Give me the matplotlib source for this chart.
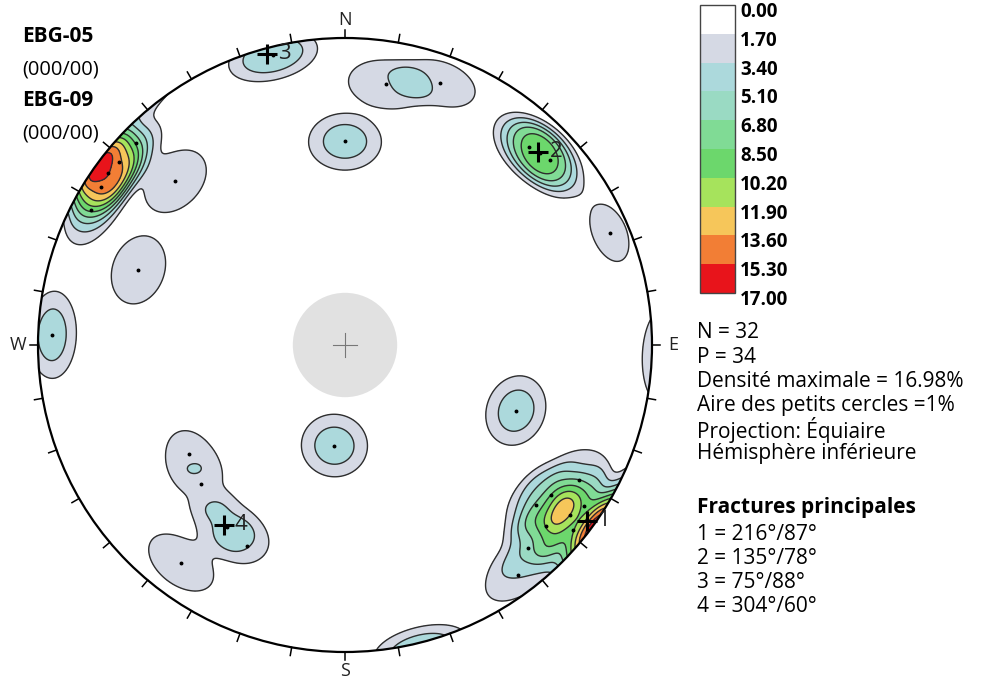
import numpy as np
import matplotlib.pyplot as plt
from matplotlib.patches import Circle, Rectangle

plt.rcParams['font.family'] = ['Open Sans', 'DejaVu Sans']

N_MEASURES = 32
N_PLANES = 34
MAX_DENSITY = 16.98
COUNT_AREA = 1  # small circle area, % of hemisphere

levels = [0.00, 1.70, 3.40, 5.10, 6.80, 8.50, 10.20, 11.90, 13.60, 15.30, 17.00]
fill_colors = ['#ffffff', '#d5d9e4', '#acd9dc', '#9adac3', '#80db95',
               '#6cd76c', '#a6e35c', '#f6c65a', '#f27e35', '#e8141b']

# poles to fractures (lower hemisphere), with weighting
pole_trend = [346, 20, 9, 0, 314, 290, 272, 67, 111, 186,
              235, 226, 213, 206, 217,
              43, 45.5, 48,
              298, 303, 306, 309, 314,
              126, 130, 132, 120, 124, 129, 127, 143, 138]
pole_plunge = [3, 10, 15, 34, 24, 29, 5, 7, 40, 63,
               38, 35, 30, 28, 12,
               13, 12, 11,
               7, 6, 5, 6, 6,
               18, 20, 13, 13, 7, 5, 9, 7, 12]
pole_weight = [1.3, 0.85, 1.0, 1.2, 1.0, 1.0, 1.2, 0.66, 1.2, 1.2,
               0.65, 0.5, 0.9, 0.45, 0.9,
               1.05, 1.05, 1.05,
               0.8, 1.25, 1.62, 1.25, 0.45,
               0.9, 0.8, 0.8, 0.7, 1.0, 1.15, 0.3, 0.8, 0.5]

# principal fracture sets, strike/dip (right hand rule)
fracture_id = ['1', '2', '3', '4']
fracture_strike = [216, 135, 75, 304]
fracture_dip = [87, 78, 88, 60]

site_names = ['EBG-05', 'EBG-09']
site_orient = ['(000/00)', '(000/00)']


def to_net(trend, plunge):
    # Lambert equal-area, lower hemisphere
    t = np.radians(np.asarray(trend, float))
    c = np.radians(90 - np.asarray(plunge, float))
    r = np.sqrt(2) * np.sin(c / 2)
    return r * np.sin(t), r * np.cos(t)


def density_grid(n=461, kernel=9.0):
    g = np.linspace(-1.03, 1.03, n)
    X, Y = np.meshgrid(g, g)
    R = np.minimum(np.hypot(X, Y), 1.0)
    c = 2 * np.arcsin(R / np.sqrt(2))
    t = np.arctan2(X, Y)
    v = np.stack([np.sin(c) * np.sin(t), np.sin(c) * np.cos(t), np.cos(c)], -1)
    pt = np.radians(pole_trend)
    pp = np.radians(pole_plunge)
    p = np.stack([np.cos(pp) * np.sin(pt), np.cos(pp) * np.cos(pt), np.sin(pp)], -1)
    ang = np.degrees(np.arccos(np.clip(np.abs(v @ p.T), 0, 1)))
    w = np.asarray(pole_weight)
    dens = (w * np.exp(-(ang / kernel) ** 4)).sum(-1) * 100 / N_MEASURES
    return X, Y, dens


fig = plt.figure(figsize=(10.01, 6.80), dpi=100)

# page overlay in pixel units for the legend and notes
page = fig.add_axes([0, 0, 1, 1])
page.set_xlim(0, 1001)
page.set_ylim(680, 0)
page.axis('off')

lim = 1.12
cx, cy, rad = 345, 345, 307
net = fig.add_axes([(cx - lim * rad) / 1001, (680 - cy - lim * rad) / 680,
                    2 * lim * rad / 1001, 2 * lim * rad / 680])
net.set_xlim(-lim, lim)
net.set_ylim(-lim, lim)
net.axis('off')
net.patch.set_visible(False)

X, Y, dens = density_grid()
clip = Circle((0, 0), 1.0, transform=net.transData)
cf = net.contourf(X, Y, np.minimum(dens, 16.99), levels=levels, colors=fill_colors)
cf.set_clip_path(clip)
cl = net.contour(X, Y, dens, levels=levels[1:], colors='#2e2e2e', linewidths=1.0)
cl.set_clip_path(clip)

# pole points
px, py = to_net(pole_trend, pole_plunge)
net.plot(px, py, 'o', ms=1.8, color='black', zorder=6)

# primitive circle and 10 degree ticks
net.add_patch(Circle((0, 0), 1.0, fill=False, ec='black', lw=1.6, zorder=7))
for a in np.radians(np.arange(0, 360, 10)):
    net.plot([np.sin(a), 1.027 * np.sin(a)], [np.cos(a), 1.027 * np.cos(a)],
             color='black', lw=1.1, zorder=7)
for lab, x, y in [('N', 0, 1.058), ('E', 1.068, 0), ('S', 0, -1.062), ('W', -1.064, 0)]:
    net.text(x, y, lab, ha='center', va='center', fontsize=13, color='#222222')

# grey centre disc with cross
net.add_patch(Circle((0, 0), 0.17, fc='#e1e1e1', ec='none', zorder=8))
net.plot([-0.04, 0.04], [0, 0], color='#777777', lw=0.8, zorder=9)
net.plot([0, 0], [-0.04, 0.04], color='#777777', lw=0.8, zorder=9)

# principal fracture poles
ft = np.asarray(fracture_strike) - 90
fp = 90 - np.asarray(fracture_dip)
fx, fy = to_net(ft, fp)
for fid, x, y in zip(fracture_id, fx, fy):
    net.plot(x, y, marker='+', ms=14, mew=2.2, color='black', zorder=10)
    net.text(x + 0.037, y, fid, ha='left', va='center', fontsize=16, color='#222222', zorder=10)

# site labels
for i, (name, orient) in enumerate(zip(site_names, site_orient)):
    page.text(22, 37 + i * 64, name, fontsize=15, fontweight='bold', va='center')
    page.text(22, 69 + i * 64, orient, fontsize=14.5, va='center')

# density legend
top, cell = 5, 28.8
for i, col in enumerate(fill_colors):
    page.add_patch(Rectangle((700, top + i * cell), 35, cell, fc=col, ec='none'))
page.add_patch(Rectangle((700, top), 35, cell * len(fill_colors), fill=False, ec='#444444', lw=1.0))
for i, lv in enumerate(levels):
    page.text(740, top + i * cell + 7, f'{lv:.2f}', fontsize=13.5, fontweight='bold', va='center')

notes = [f'N = {N_MEASURES}', f'P = {N_PLANES}',
         f'Densité maximale = {MAX_DENSITY:.2f}%',
         f'Aire des petits cercles ={COUNT_AREA}%',
         'Projection: Équiaire', 'Hémisphère inférieure']
for i, s in enumerate(notes):
    page.text(697, 333 + i * 24.2, s, fontsize=15, va='center')
page.text(697, 508, 'Fractures principales', fontsize=15, fontweight='bold', va='center')
for i, (fid, s, d) in enumerate(zip(fracture_id, fracture_strike, fracture_dip)):
    page.text(697, 534 + i * 24.3, f'{fid} = {s}°/{d}°', fontsize=15, va='center')

fig.savefig('out.png', dpi=100)
